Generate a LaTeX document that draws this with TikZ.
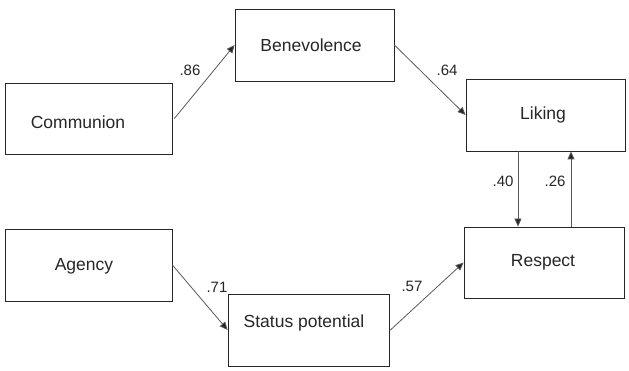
\documentclass[tikz,border=0pt]{standalone}
\usepackage{fontspec}
\setmainfont{Liberation Sans}
\usetikzlibrary{arrows.meta}
\begin{document}
\begin{tikzpicture}[x=1pt,y=-1pt,
  box/.style={draw=black!85,line width=0.8pt,rectangle,inner sep=0pt,minimum width=#1},
  box/.default=160pt,
  txt/.style={font=\fontsize{17.5}{20}\selectfont,inner sep=0pt,text=black!85},
  lbl/.style={font=\fontsize{15}{17}\selectfont,inner sep=0pt,text=black!85},
  arr/.style={draw=black!65,line width=0.8pt,-{Triangle[length=8pt,width=7pt,fill=black!85]}}]
\useasboundingbox (0,0) rectangle (629,371);
% boxes
\node[box=167pt,minimum height=71pt] (comm) at (88.5,118.5) {};
\node[box=159pt,minimum height=72pt] (ben) at (314.5,45) {};
\node[box=159pt,minimum height=72pt] (lik) at (545.5,115) {};
\node[box=160pt,minimum height=71pt] (resp) at (544,262.5) {};
\node[box=167pt,minimum height=72pt] (ag) at (88.5,265) {};
\node[box=161pt,minimum height=72pt] (st) at (308.5,330) {};
% texts
\node[txt] (tcomm) at (78,122) {Communion};
\node[txt] (tben) at (311,45) {Benevolence};
\node[txt] (tlik) at (543,115) {Liking};
\node[txt] (tresp) at (543,262) {Respect};
\node[txt] (tag) at (84,266) {Agency};
\node[txt] (tst) at (304,323) {Status potential};
% connectors
\coordinate (xa) at (518,0);
\coordinate (xb) at (571,0);
\draw[arr] ([xshift=2pt]comm.east) -- (ben.west);
\draw[arr] (ben.east) -- (lik.west);
\draw[arr] (ag.east) -- (st.west);
\draw[arr] ([xshift=1pt]st.east) -- (resp.west);
\draw[arr] (lik.south -| xa) -- (resp.north -| xa);
\draw[arr] (resp.north -| xb) -- (lik.south -| xb);
% labels
\node[lbl] (l86) at (190,70) {.86};
\node[lbl] (l64) at (447,70) {.64};
\node[lbl] (l40) at (503,181) {.40};
\node[lbl] (l26) at (555,181) {.26};
\node[lbl] (l71) at (217,287) {.71};
\node[lbl] (l57) at (412,286) {.57};
\end{tikzpicture}
\end{document}
